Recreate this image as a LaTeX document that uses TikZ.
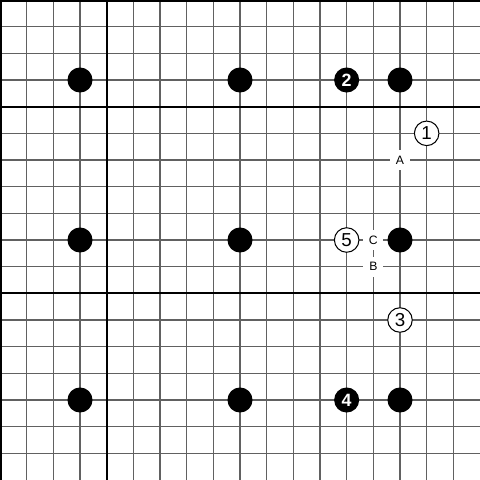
\documentclass[tikz,border=0pt]{standalone}
\usepackage{fontspec}
\setmainfont{Liberation Sans}
\begin{document}
\begin{tikzpicture}[x=0.5cm,y=-0.5cm,
  gridline/.style={draw=black!62,line width=0.6pt},
  heavyline/.style={draw=black,line width=1.1pt},
  border/.style={draw=black,line width=2.2pt},
  bstone/.style={circle,fill=black,minimum size=0.47cm,inner sep=0pt},
  nbstone/.style={circle,fill=black,text=white,minimum size=0.47cm,inner sep=0pt,font=\bfseries\fontsize{9.5}{9.5}\selectfont},
  wstone/.style={circle,draw=black,line width=0.55pt,fill=white,minimum size=0.46cm,inner sep=0pt,font=\fontsize{10}{10}\selectfont},
  boardlabel/.style={fill=white,inner sep=0pt,minimum size=0.37cm,font=\fontsize{6.5}{6.5}\selectfont}
]
\useasboundingbox (0,0) rectangle (18,18);
\fill[white] (0,0) rectangle (18,18);
\foreach \k in {1,...,17} {
  \draw[gridline] (\k,0) -- (\k,18);
  \draw[gridline] (0,\k) -- (18,\k);
}
\draw[heavyline] (4,0) -- (4,18);
\draw[heavyline] (0,4) -- (18,4);
\draw[heavyline] (0,11) -- (18,11);
\draw[border] (0,0) -- (18,0);
\draw[border] (0,0) -- (0,18);
% labels on the board
\node[boardlabel] (mA) at (15,6) {A};
\node[boardlabel] (mC) at (14,9) {C};
\node[boardlabel] (mB) at (14,10) {B};
% star stones
\foreach \i in {3,9,15} {
  \foreach \j in {3,9,15} {
    \node[bstone] (s\i-\j) at (\i,\j) {};
  }
}
\node[nbstone] (n2) at (13,3) {2};
\node[nbstone] (n4) at (13,15) {4};
\node[wstone] (n1) at (16,5) {1};
\node[wstone] (n3) at (15,12) {3};
\node[wstone] (n5) at (13,9) {5};
\end{tikzpicture}
\end{document}
